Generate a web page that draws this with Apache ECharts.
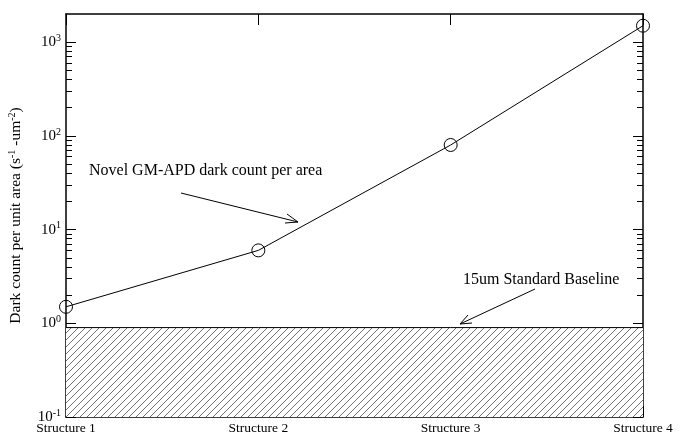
<!DOCTYPE html>
<html>
<head>
<meta charset="utf-8">
<script src="https://cdn.jsdelivr.net/npm/echarts@6/dist/echarts.min.js"></script>
<style>html,body{margin:0;padding:0;background:#fff}#c{width:679px;height:437px}</style>
</head>
<body>
<div id="c"></div>
<script>
const categories = ['Structure 1', 'Structure 2', 'Structure 3', 'Structure 4'];
const darkCount = [1.5, 6.0, 80, 1500];
const baseline = [0.9, 0.9, 0.9, 0.9];
const majorTicks = [0.1, 1, 10, 100, 1000];
const minorTicks = [];
[0.1, 1, 10, 100].forEach(d => { for (let m = 2; m <= 9; m++) minorTicks.push(+(m * d).toPrecision(3)); });
const yMin = 0.1, yMax = 2000;

const FONT = '"Liberation Serif", "DejaVu Serif", serif';

// hatch pattern
const pat = document.createElement('canvas');
pat.width = 7; pat.height = 7;
const pc = pat.getContext('2d');
pc.fillStyle = '#fff'; pc.fillRect(0, 0, 7, 7);
pc.strokeStyle = '#333'; pc.lineWidth = 0.7;
pc.beginPath();
pc.moveTo(-1, 8); pc.lineTo(8, -1);
pc.moveTo(-8, 8); pc.lineTo(1, -1);
pc.moveTo(6, 8); pc.lineTo(15, -1);
pc.stroke();

const chart = echarts.init(document.getElementById('c'), null, { renderer: 'canvas' });

function yAxisCfg(pos, major, show) {
  return {
    type: 'log', logBase: 10, min: yMin, max: yMax, position: pos,
    axisLine: { show: show, lineStyle: { color: '#000', width: 1.5 } },
    axisTick: { show: true, inside: true, length: major ? 10 : 6,
      customValues: major ? majorTicks : minorTicks,
      lineStyle: { color: '#000', width: 1 } },
    axisLabel: { show: major && pos === 'left', customValues: majorTicks, margin: 5,
      formatter: v => '{b|10}{s|' + Math.round(Math.log10(v)) + '}',
      rich: { b: { fontFamily: FONT, fontSize: 15, color: '#000' },
              s: { fontFamily: FONT, fontSize: 10, color: '#000', verticalAlign: 'top', padding: [0, 0, 8, 0] } } },
    splitLine: { show: false }, minorTick: { show: false }
  };
}

const yAxes = [yAxisCfg('left', true, true), yAxisCfg('left', false, false),
               yAxisCfg('right', true, true), yAxisCfg('right', false, false)];
yAxes[0].name = '{n|Dark count per unit area (s}{s|-1}{n| -um}{s|-2}{n|)}';
yAxes[0].nameLocation = 'middle';
yAxes[0].nameRotate = 90;
yAxes[0].nameGap = 41;
yAxes[0].nameTextStyle = { rich: {
  n: { fontFamily: FONT, fontSize: 15.5, color: '#000' },
  s: { fontFamily: FONT, fontSize: 10, color: '#000', padding: [0, 0, 8, 0] } } };

function xAxisCfg(pos, labels) {
  return {
    type: 'category', data: categories, boundaryGap: false, position: pos,
    axisLine: { show: true, onZero: false, lineStyle: { color: '#000', width: 1.5 } },
    axisTick: { show: true, inside: true, length: 11, alignWithLabel: true, lineStyle: { color: '#000', width: 1 } },
    axisLabel: { show: labels, fontFamily: FONT, fontSize: 13.5, color: '#000', margin: 4 },
    splitLine: { show: false }
  };
}

chart.setOption({
  animation: false,
  backgroundColor: '#fff',
  grid: { left: 66, right: 36, top: 14, bottom: 20, containLabel: false, outerBoundsMode: 'none' },
  xAxis: [xAxisCfg('bottom', true), xAxisCfg('top', false)],
  yAxis: yAxes,
  series: [
    {
      name: '15um Standard Baseline', type: 'line', data: baseline, xAxisIndex: 0, yAxisIndex: 0,
      symbol: 'none', lineStyle: { color: '#000', width: 1 },
      areaStyle: { origin: 'start', color: { image: pat, repeat: 'repeat' }, opacity: 1 },
      z: 1
    },
    {
      name: 'Novel GM-APD dark count per area', type: 'line', data: darkCount, xAxisIndex: 0, yAxisIndex: 0,
      symbol: 'circle', symbolSize: 13,
      itemStyle: { color: 'rgba(0,0,0,0)', borderColor: '#000', borderWidth: 1 },
      lineStyle: { color: '#000', width: 1 }, z: 3
    }
  ],
  graphic: [
    { type: 'text', left: 89, top: 163, style: { text: 'Novel GM-APD dark count per area', font: '16px ' + FONT, fill: '#000' } },
    { type: 'line', shape: { x1: 181, y1: 193, x2: 298, y2: 222 }, style: { stroke: '#000', lineWidth: 1 } },
    { type: 'polyline', shape: { points: [[287, 214], [298, 222], [285, 223]] }, style: { stroke: '#000', lineWidth: 1, fill: null } },
    { type: 'text', left: 463, top: 272, style: { text: '15um Standard Baseline', font: '16px ' + FONT, fill: '#000' } },
    { type: 'line', shape: { x1: 535, y1: 289, x2: 460, y2: 324 }, style: { stroke: '#000', lineWidth: 1 } },
    { type: 'polyline', shape: { points: [[468, 315], [460, 324], [472, 323]] }, style: { stroke: '#000', lineWidth: 1, fill: null } }
  ]
});
</script>
</body>
</html>
